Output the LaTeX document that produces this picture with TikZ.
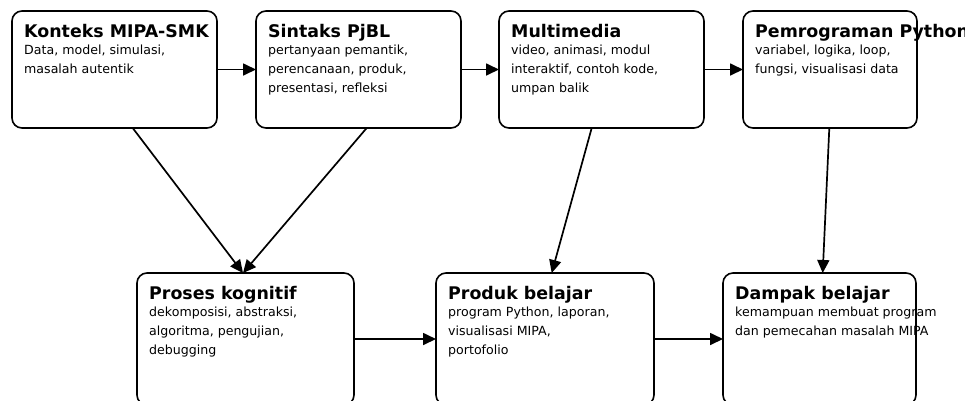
\documentclass[tikz,border=0pt]{standalone}
\usepackage{fontspec}
\setmainfont{DejaVu Sans}
\usetikzlibrary{positioning,arrows.meta}

\begin{document}
\begin{tikzpicture}[x=1pt,y=-1pt]
      \tikzstyle{box}=[draw,rounded corners=10pt,line width=1.6pt,inner sep=0pt,outer sep=0pt,minimum height=117pt]
      \tikzstyle{low}=[box,minimum height=132pt]
      \tikzstyle{ttl}=[anchor=base west,inner sep=0pt,font=\fontsize{17.4}{20}\selectfont\bfseries]
      \tikzstyle{txt}=[anchor=north west,inner sep=0pt,align=left,font=\fontsize{12.6}{19}\selectfont]
      \tikzstyle{arr}=[-{Triangle[length=13pt,width=12pt]},line width=1.7pt]
      \clip (0,0) rectangle (965,400);
      \node[box,minimum width=205pt,anchor=north west] (konteks) at (12,11) {};
      \node[box,minimum width=205pt,right=39pt of konteks] (sintaks) {};
      \node[box,minimum width=205pt,right=38pt of sintaks] (media) {};
      \node[box,minimum width=174pt,right=39pt of media] (python) {};
      \node[low,minimum width=217pt,anchor=north west] (kognitif) at (137,273) {};
      \node[low,minimum width=218pt,right=82pt of kognitif] (produk) {};
      \node[low,minimum width=193pt,right=69pt of produk] (dampak) {};
      \node[ttl] (konteks-t) at ([xshift=12pt,yshift=-26.5pt]konteks.north west) {Konteks MIPA-SMK};
      \node[txt] (konteks-b) at ([xshift=12pt,yshift=-34pt]konteks.north west) {Data, model, simulasi,\\masalah autentik};
      \node[ttl] (sintaks-t) at ([xshift=12pt,yshift=-26.5pt]sintaks.north west) {Sintaks PjBL};
      \node[txt] (sintaks-b) at ([xshift=12pt,yshift=-34pt]sintaks.north west) {pertanyaan pemantik,\\perencanaan, produk,\\presentasi, refleksi};
      \node[ttl] (media-t) at ([xshift=12pt,yshift=-26.5pt]media.north west) {Multimedia};
      \node[txt] (media-b) at ([xshift=12pt,yshift=-34pt]media.north west) {video, animasi, modul\\interaktif, contoh kode,\\umpan balik};
      \node[ttl] (python-t) at ([xshift=12pt,yshift=-26.5pt]python.north west) {Pemrograman Python};
      \node[txt] (python-b) at ([xshift=12pt,yshift=-34pt]python.north west) {variabel, logika, loop,\\fungsi, visualisasi data};
      \node[ttl] (kognitif-t) at ([xshift=12pt,yshift=-26.5pt]kognitif.north west) {Proses kognitif};
      \node[txt] (kognitif-b) at ([xshift=12pt,yshift=-34pt]kognitif.north west) {dekomposisi, abstraksi,\\algoritma, pengujian,\\debugging};
      \node[ttl] (produk-t) at ([xshift=12pt,yshift=-26.5pt]produk.north west) {Produk belajar};
      \node[txt] (produk-b) at ([xshift=12pt,yshift=-34pt]produk.north west) {program Python, laporan,\\visualisasi MIPA,\\portofolio};
      \node[ttl] (dampak-t) at ([xshift=12pt,yshift=-26.5pt]dampak.north west) {Dampak belajar};
      \node[txt] (dampak-b) at ([xshift=12pt,yshift=-34pt]dampak.north west) {kemampuan membuat program\\dan pemecahan masalah MIPA};
      \draw[arr] (konteks) -- (sintaks);
      \draw[arr] (sintaks) -- (media);
      \draw[arr] (media) -- (python);
      \draw[arr] ([xshift=18.2pt]konteks.south) -- ([xshift=-2.5pt]kognitif.north);
      \draw[arr] ([xshift=8.2pt]sintaks.south) -- ([xshift=-2.5pt]kognitif.north);
      \draw[arr] ([xshift=-9.8pt]media.south) -- ([xshift=6.7pt]produk.north);
      \draw[arr] ([xshift=-0.7pt]python.south) -- ([xshift=3.2pt]dampak.north);
      \draw[arr] (kognitif) -- (produk);
      \draw[arr] (produk) -- (dampak);
\end{tikzpicture}
\end{document}
